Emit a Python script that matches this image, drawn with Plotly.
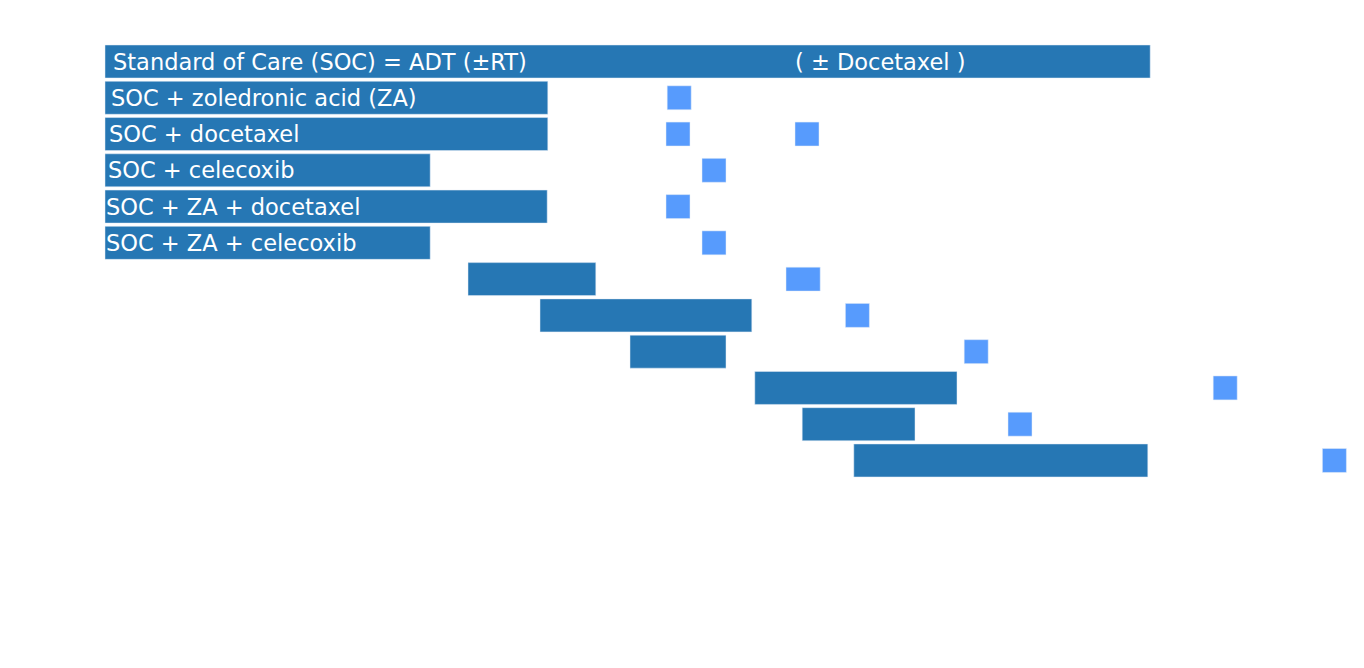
import plotly.graph_objects as go

# Arms of the trial (row order top to bottom)
arm_labels = [
    "Standard of Care (SOC) = ADT (±RT)",
    "SOC + zoledronic acid (ZA)",
    "SOC + docetaxel",
    "SOC + celecoxib",
    "SOC + ZA + docetaxel",
    "SOC + ZA + celecoxib",
    "", "", "", "", "", "",
]
# Recruitment periods (years)
arm_start = [2005.75, 2005.75, 2005.75, 2005.75, 2005.75, 2005.75,
             2011.80, 2013.00, 2014.50, 2016.58, 2017.37, 2018.23]
arm_end = [2023.17, 2013.13, 2013.13, 2011.17, 2013.12, 2011.17,
           2013.93, 2016.53, 2016.10, 2019.95, 2019.25, 2023.13]

# Result reports (row index, start year, end year)
result_row = [1, 2, 2, 3, 4, 5, 6, 7, 8, 9, 10, 11]
result_start = [2015.12, 2015.10, 2017.25, 2015.70, 2015.10, 2015.70,
                2017.10, 2018.09, 2020.07, 2024.22, 2020.80, 2026.04]
result_end = [2015.52, 2015.50, 2017.65, 2016.10, 2015.50, 2016.10,
              2017.67, 2018.49, 2020.47, 2024.62, 2021.20, 2026.44]

soc_note = "( ± Docetaxel )"
soc_note_x = 2018.68

rows = list(range(len(arm_labels)))

fig = go.Figure()
fig.add_trace(go.Bar(
    orientation="h",
    y=rows,
    base=arm_start,
    x=[e - s for s, e in zip(arm_start, arm_end)],
    width=0.91,
    marker=dict(color="#2677b4", line=dict(color="#E5ECF6", width=0.5)),
    hoverinfo="skip",
    showlegend=False,
))
fig.add_trace(go.Bar(
    orientation="h",
    y=result_row,
    base=result_start,
    x=[e - s for s, e in zip(result_start, result_end)],
    width=0.66,
    marker=dict(color="#579bfd", line=dict(color="#E5ECF6", width=0.5)),
    hoverinfo="skip",
    showlegend=False,
))

label_offsets = [0.10, 0.07, 0.04, 0.01, -0.01, -0.01]
for i, lab in enumerate(arm_labels):
    if lab:
        fig.add_annotation(
            x=arm_start[i] + label_offsets[i], y=i, text=lab,
            xanchor="left", yanchor="middle", showarrow=False,
            font=dict(family="DejaVu Sans", size=22.5, color="white"),
        )
fig.add_annotation(
    x=soc_note_x, y=0, text=soc_note, xanchor="center", yanchor="middle",
    showarrow=False, font=dict(family="DejaVu Sans", size=22.5, color="white"),
)

# page body has an 8px margin, so the figure starts at page pixel 8
W, H, off = 1356, 660, 8
px_per_year = 60.0
x0 = 2005.75 - (105 - off) / px_per_year
x1 = 2005.75 + (W - (105 - off)) / px_per_year
row_px = 36.27
y_top = -(61.5 - off) / row_px
y_bot = (H - (61.5 - off)) / row_px

fig.update_layout(
    width=W, height=H,
    margin=dict(l=0, r=0, t=0, b=0),
    barmode="overlay",
    paper_bgcolor="white", plot_bgcolor="white",
    xaxis=dict(range=[x0, x1], visible=False),
    yaxis=dict(range=[y_bot, y_top], visible=False),
    font=dict(family="DejaVu Sans"),
)
fig.write_html("out.html")
